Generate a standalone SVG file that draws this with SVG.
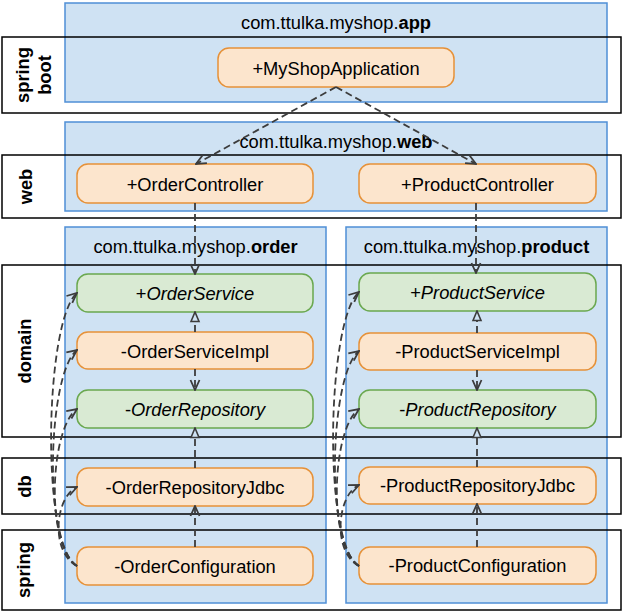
<svg xmlns="http://www.w3.org/2000/svg" width="623" height="612" viewBox="0 0 623 612">
<style>
text{font-family:"Liberation Sans",Arial,sans-serif;font-size:18.3px;fill:#000}
.pkg{fill:#cfe2f3;stroke:#4f8fd6;stroke-width:1.5}
.layer{fill:none;stroke:#000;stroke-width:1.5}
.lbl{font-weight:bold;text-anchor:middle}
.cls{fill:#fce5cd;stroke:#e69138;stroke-width:1.5}
.ifc{fill:#d9ead3;stroke:#6aa84f;stroke-width:1.5}
.t{text-anchor:middle;dominant-baseline:central}
.b{font-weight:bold}
.i{font-style:italic}
.dep{fill:none;stroke:#3c3c3c;stroke-width:1.8;stroke-dasharray:7 4;marker-end:url(#open)}
.real{fill:none;stroke:#3c3c3c;stroke-width:1.8;stroke-dasharray:7 4;marker-end:url(#tri)}
</style>
<defs>
<marker id="open" viewBox="0 0 12 12" refX="11" refY="6" markerWidth="12" markerHeight="12" markerUnits="userSpaceOnUse" orient="auto">
<path d="M1,1.5 L11,6 L1,10.5" fill="none" stroke="#3c3c3c" stroke-width="1.8"/>
</marker>
<marker id="tri" viewBox="0 0 12 12" refX="11" refY="6" markerWidth="12" markerHeight="12" markerUnits="userSpaceOnUse" orient="auto">
<path d="M1.5,2 L11,6 L1.5,10 Z" fill="#cfe2f3" stroke="#3c3c3c" stroke-width="1.6"/>
</marker>
</defs>

<g id="packages">
<g id="pkg-app"><rect class="pkg" x="65" y="3" width="542" height="99"/>
<text x="336" y="28.5" text-anchor="middle">com.ttulka.myshop.<tspan class="b">app</tspan></text></g>
<g id="pkg-web"><rect class="pkg" x="65" y="122" width="542" height="89"/>
<text x="336" y="148" text-anchor="middle">com.ttulka.myshop.<tspan class="b">web</tspan></text></g>
<g id="pkg-order"><rect class="pkg" x="65" y="227" width="261" height="376"/>
<text x="195.5" y="253" text-anchor="middle">com.ttulka.myshop.<tspan class="b">order</tspan></text></g>
<g id="pkg-product"><rect class="pkg" x="346" y="227" width="261" height="376"/>
<text x="476.5" y="253" text-anchor="middle">com.ttulka.myshop.<tspan class="b">product</tspan></text></g>
</g>

<g id="layers">
<g id="layer-springboot"><rect class="layer" x="2" y="37" width="619" height="76"/>
<text class="lbl" transform="translate(29,75) rotate(-90)">spring</text>
<text class="lbl" transform="translate(51,75) rotate(-90)">boot</text></g>
<g id="layer-web"><rect class="layer" x="2" y="155" width="619" height="63"/>
<text class="lbl" transform="translate(32,186.5) rotate(-90)">web</text></g>
<g id="layer-domain"><rect class="layer" x="2" y="265" width="619" height="172"/>
<text class="lbl" transform="translate(31,351) rotate(-90)">domain</text></g>
<g id="layer-db"><rect class="layer" x="2" y="458" width="619" height="56"/>
<text class="lbl" transform="translate(31,486.5) rotate(-90)">db</text></g>
<g id="layer-spring"><rect class="layer" x="2" y="530" width="619" height="80"/>
<text class="lbl" transform="translate(30,570) rotate(-90)">spring</text></g>
</g>

<g id="MyShopApplication"><rect class="cls" x="218" y="48" width="236" height="39" rx="11"/><text class="t" x="336" y="68">+MyShopApplication</text></g>
<g id="OrderController"><rect class="cls" x="77" y="164" width="236" height="39" rx="11"/><text class="t" x="195" y="184">+OrderController</text></g>
<g id="ProductController"><rect class="cls" x="359" y="164" width="237" height="39" rx="11"/><text class="t" x="477.5" y="184">+ProductController</text></g>

<g id="OrderService"><rect class="ifc" x="77" y="274" width="236" height="38" rx="11"/><text class="t" x="195" y="293">+<tspan class="i">OrderService</tspan></text></g>
<g id="OrderServiceImpl"><rect class="cls" x="77" y="332" width="236" height="37" rx="11"/><text class="t" x="195" y="351">-OrderServiceImpl</text></g>
<g id="OrderRepository"><rect class="ifc" x="77" y="390" width="236" height="38" rx="11"/><text class="t" x="195" y="409">-<tspan class="i">OrderRepository</tspan></text></g>
<g id="OrderRepositoryJdbc"><rect class="cls" x="77" y="468" width="236" height="38" rx="11"/><text class="t" x="195" y="487">-OrderRepositoryJdbc</text></g>
<g id="OrderConfiguration"><rect class="cls" x="77" y="547" width="236" height="38" rx="11"/><text class="t" x="195" y="566">-OrderConfiguration</text></g>

<g id="ProductService"><rect class="ifc" x="359" y="273" width="237" height="38" rx="11"/><text class="t" x="477.5" y="292">+<tspan class="i">ProductService</tspan></text></g>
<g id="ProductServiceImpl"><rect class="cls" x="359" y="333" width="237" height="37" rx="11"/><text class="t" x="477.5" y="351.5">-ProductServiceImpl</text></g>
<g id="ProductRepository"><rect class="ifc" x="359" y="390" width="237" height="38" rx="11"/><text class="t" x="477.5" y="409">-<tspan class="i">ProductRepository</tspan></text></g>
<g id="ProductRepositoryJdbc"><rect class="cls" x="359" y="467" width="237" height="37" rx="11"/><text class="t" x="477.5" y="485.5">-ProductRepositoryJdbc</text></g>
<g id="ProductConfiguration"><rect class="cls" x="359" y="547" width="237" height="37" rx="11"/><text class="t" x="477.5" y="565.5">-ProductConfiguration</text></g>

<g id="connectors">
<path class="dep" d="M336,87 L196,164"/>
<path class="dep" d="M336,87 L476,164"/>
<path class="dep" d="M195,203 L195,274"/>
<path class="dep" d="M476,203 L476,273"/>
<path class="real" d="M195,332 L195,312"/>
<path class="dep" d="M195,369 L195,390"/>
<path class="real" d="M195,468 L195,428"/>
<path class="dep" d="M195,547 L195,506"/>
<path class="real" d="M477,333 L477,311"/>
<path class="dep" d="M477,370 L477,390"/>
<path class="real" d="M477,467 L477,428"/>
<path class="dep" d="M477,547 L477,504"/>
<path class="dep" d="M77,566 C40,545 45,320 77,293"/>
<path class="dep" d="M77,566 C42,545 48,372 77,350"/>
<path class="dep" d="M77,566 C45,545 50,428 77,409"/>
<path class="dep" d="M77,566 C50,552 55,497 77,487"/>
<path class="dep" d="M359,566 C322,545 327,319 359,292"/>
<path class="dep" d="M359,566 C324,545 330,373 359,351"/>
<path class="dep" d="M359,566 C327,545 332,428 359,409"/>
<path class="dep" d="M359,566 C332,552 337,495 359,485"/>
</g>
</svg>
